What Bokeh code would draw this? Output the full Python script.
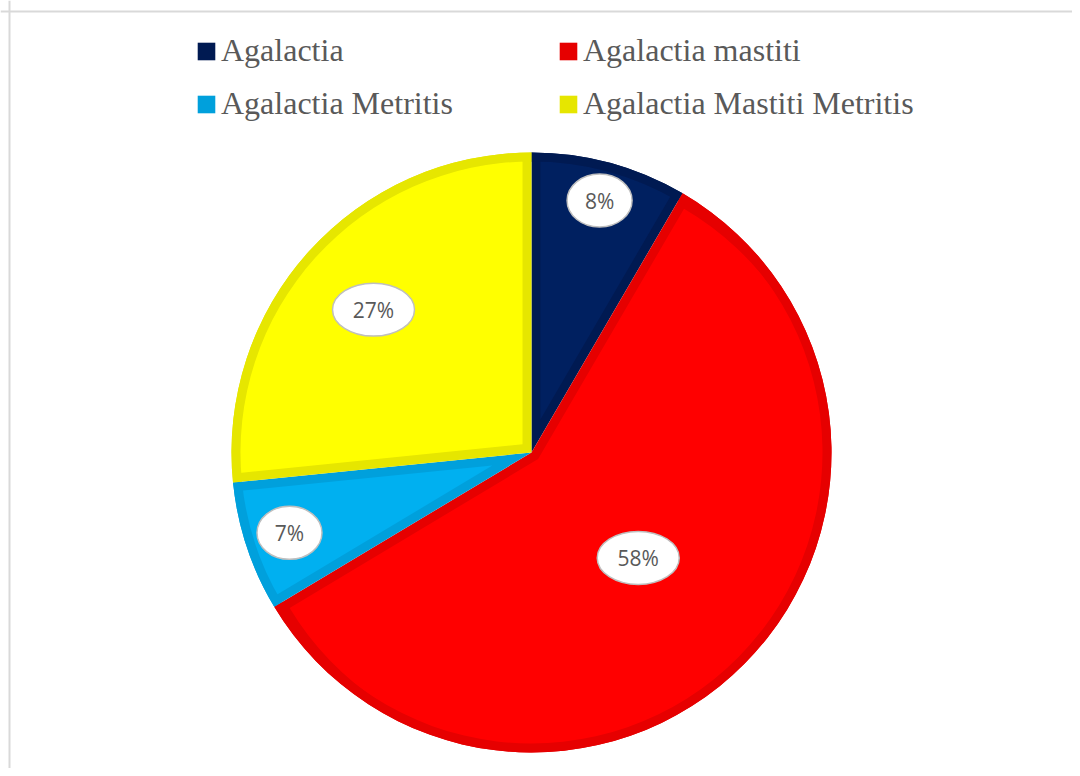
import numpy as np
from bokeh.plotting import figure
from bokeh.models import Legend, LegendItem, Span, Range1d, ColumnDataSource
from bokeh.core.properties import value
from bokeh.embed import file_html
from bokeh.resources import INLINE

# ---- data ----
categories = ["Agalactia", "Agalactia mastiti", "Agalactia Metritis", "Agalactia Mastiti Metritis"]
values = [8.4, 58.0, 7.0, 26.6]
fill_colors = ["#002060", "#FF0000", "#00B0F0", "#FFFF00"]
border_colors = ["#001A52", "#E60000", "#00A0DC", "#E6E600"]
label_dist = [0.87, 0.50, 0.85, 0.71]   # label distance as fraction of radius
legend_cols = [[0, 2], [1, 3]]

# ---- layout ----
W, H = 1072, 768
CX, CY, R, D = 531, 316, 300, 9

p = figure(width=W, height=H, x_range=Range1d(0, W), y_range=Range1d(0, H),
           output_backend="svg", toolbar_location=None, min_border=0,
           x_axis_location=None, y_axis_location=None)
p.grid.visible = False
p.outline_line_color = None
p.background_fill_color = "white"

vals = np.array(values, dtype=float)
frac = vals / vals.sum()
cum = np.concatenate([[0.0], np.cumsum(frac)])
start = np.pi / 2 - 2 * np.pi * cum[:-1]
end = np.pi / 2 - 2 * np.pi * cum[1:]
mid = (start + end) / 2
half = np.pi * frac
shift = D / np.sin(half)

src = ColumnDataSource(dict(
    cat=categories, start=start, end=end, fill=fill_colors, border=border_colors,
    x=[CX] * 4, y=[CY] * 4,
    ix=CX + shift * np.cos(mid), iy=CY + shift * np.sin(mid), ir=R - shift - 1,
))

# outer dark wedge (border colour)
outer = p.wedge(x="x", y="y", radius=R, start_angle="start", end_angle="end", direction="clock",
                fill_color="border", line_color=None, source=src)
# inner lighter wedge, offset inward from both straight edges
p.wedge(x="ix", y="iy", radius="ir", start_angle="start", end_angle="end", direction="clock",
        fill_color="fill", line_color=None, source=src)
# outer border ring
p.annular_wedge(x="x", y="y", inner_radius=R - D, outer_radius=R, start_angle="start",
                end_angle="end", direction="clock", fill_color="border", line_color=None, source=src)

# labels
labels = [f"{round(v)}%" for v in values]
lsrc = ColumnDataSource(dict(
    x=CX + R * np.array(label_dist) * np.cos(mid),
    y=CY + R * np.array(label_dist) * np.sin(mid),
    w=[65 if len(t) <= 2 else 82 for t in labels],
    t=labels,
))
p.ellipse(x="x", y="y", width="w", height=53, fill_color="white", line_color="#BFBFBF",
          line_width=1.5, source=lsrc)
p.text(x="x", y="y", text="t", text_align="center", text_baseline="middle",
       text_font=value("Open Sans"), text_font_size="21px", text_color="#595959", source=lsrc)

for col, lx in zip(legend_cols, [195, 557]):
    leg = Legend(items=[LegendItem(label=categories[i], renderers=[outer], index=i) for i in col],
                 location=(lx, 646), orientation="vertical",
                 label_text_font="Liberation Serif", label_text_font_size="32px",
                 label_text_color="#595959", glyph_width=22, glyph_height=22,
                 label_standoff=4, spacing=16, padding=0, margin=0, label_height=30,
                 border_line_color=None, background_fill_alpha=0)
    p.add_layout(leg)

# chart frame border (left and top visible)
p.add_layout(Span(location=9, dimension="height", line_color="#D9D9D9", line_width=2))
p.add_layout(Span(location=757, dimension="width", line_color="#D9D9D9", line_width=2))

open("out.html", "w").write(file_html(p, INLINE))
